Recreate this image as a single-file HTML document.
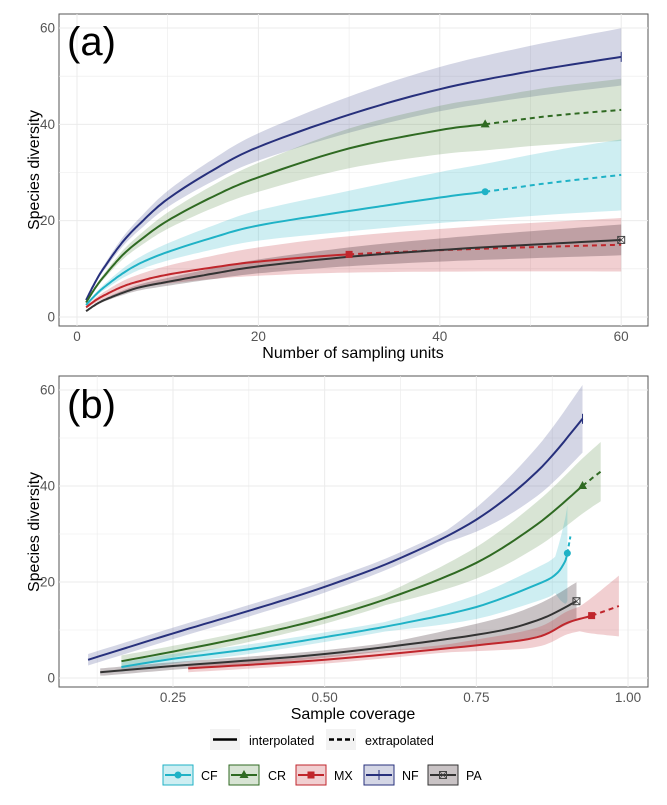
<!DOCTYPE html>
<html><head><meta charset="utf-8"><style>
body{margin:0;background:#fff;}
svg text{font-family:"Liberation Sans",sans-serif;}
</style></head><body>
<svg id="s" width="667" height="800" xmlns="http://www.w3.org/2000/svg">
<rect width="667" height="800" fill="#fff"/>
<g id="g"></g>
</svg>
<script>
var g=document.getElementById('g');var h='';
function cr(pts,n){
 var out=[];for(var i=0;i<pts.length-1;i++){var p0=pts[Math.max(0,i-1)],p1=pts[i],p2=pts[i+1],p3=pts[Math.min(pts.length-1,i+2)];
 for(var k=0;k<n;k++){var t=k/n,t2=t*t,t3=t2*t;
 var f=function(a,b,c,d){return 0.5*((2*b)+(-a+c)*t+(2*a-5*b+4*c-d)*t2+(-a+3*b-3*c+d)*t3)};
 out.push([f(p0[0],p1[0],p2[0],p3[0]),f(p0[1],p1[1],p2[1],p3[1])]);}}
 out.push(pts[pts.length-1]);return out;}
function P(a){return a.map(function(p,i){return (i?'L':'M')+p[0].toFixed(1)+','+p[1].toFixed(1)}).join('')}
function frame(top,bot,xt,yt){
 h+='<rect x="59" y="'+top+'" width="589" height="'+(bot-top)+'" fill="#fff" stroke="#555" stroke-width="1"/>';
 xt.forEach(function(t){h+='<line x1="'+t[0]+'" x2="'+t[0]+'" y1="'+top+'" y2="'+bot+'" stroke="#ebebeb" stroke-width="'+(t[2]?0.6:1)+'"/>';});
 yt.forEach(function(t){h+='<line x1="59" x2="648" y1="'+t[0]+'" y2="'+t[0]+'" stroke="#ebebeb" stroke-width="'+(t[2]?0.6:1)+'"/>';});
}
var ax=function(v){return 77+9.07*v}, ay=function(v){return 317-4.817*v};
var xtA=[],ytA=[];
for(var v=0;v<=60;v+=10){xtA.push([ax(v),v,v%20?1:0]);}
for(var v=0;v<=60;v+=10){ytA.push([ay(v),v,v%20?1:0]);}
frame(14,326,xtA,ytA);
var C={CF:['#1fb2c6','rgba(31,178,198,0.22)'],CR:['#2f6a22','rgba(60,120,40,0.2)'],MX:['#c0262c','rgba(192,38,44,0.22)'],NF:['#27307c','rgba(39,48,124,0.2)'],PA:['#333','rgba(60,40,45,0.28)']};
var A={
NF:{p:[[1,3.5],[2,7.2],[3,10.3],[5,15.5],[7,19.5],[10,24.5],[15,30.5],[20,35.3],[30,42],[40,47.3],[50,51],[60,54]],obs:60,a:.04,b:.07},
CR:{p:[[1,3],[2,6],[3,8.5],[5,12.8],[7,16],[10,20],[15,25],[20,29],[30,35],[40,38.8],[45,40],[52,41.7],[60,43]],obs:45,a:.04,b:.11},
CF:{p:[[1,2.5],[2,4.5],[3,6.2],[5,9],[7,11.2],[10,13.5],[15,16.5],[20,19],[30,22],[40,24.8],[45,26],[52,27.8],[60,29.5]],obs:45,a:.05,b:.2},
MX:{p:[[1,2],[2,3.4],[3,4.5],[5,6.3],[7,7.5],[10,8.8],[15,10.3],[20,11.5],[30,13],[45,14.2],[60,15]],obs:30,a:.1,b:.27},
PA:{p:[[1,1.2],[2,2.5],[3,3.5],[5,5],[7,6.2],[10,7.3],[15,9],[20,10.5],[30,12.5],[40,13.9],[50,15],[60,16]],obs:60,a:.05,b:.15}};
var ord=['NF','CR','CF','MX','PA'];
ord.forEach(function(k){var s=A[k],c=cr(s.p,10),u=[],l=[];
 c.forEach(function(q){var f=s.a+s.b*Math.sqrt(q[0]/60);u.push([ax(q[0]),ay(q[1]*(1+f))]);l.push([ax(q[0]),ay(q[1]*(1-f))]);});
 h+='<path d="'+P(u.concat(l.reverse()))+'Z" fill="'+C[k][1]+'"/>';});
ord.forEach(function(k){var s=A[k],c=cr(s.p,10),i1=[],e1=[];
 c.forEach(function(q){var pt=[ax(q[0]),ay(q[1])];if(q[0]<=s.obs+0.01)i1.push(pt);if(q[0]>=s.obs-0.01)e1.push(pt);});
 h+='<path d="'+P(i1)+'" fill="none" stroke="'+C[k][0]+'" stroke-width="2"/>';
 if(e1.length>1)h+='<path d="'+P(e1)+'" fill="none" stroke="'+C[k][0]+'" stroke-width="2" stroke-dasharray="5,4"/>';});
function mark(k,x,y){var c=C[k][0];
 if(k=='CF')h+='<circle cx="'+x+'" cy="'+y+'" r="3.5" fill="'+c+'"/>';
 if(k=='CR')h+='<polygon points="'+x+','+(y-5)+' '+(x-4.5)+','+(y+3)+' '+(x+4.5)+','+(y+3)+'" fill="'+c+'"/>';
 if(k=='MX')h+='<rect x="'+(x-3.5)+'" y="'+(y-3.5)+'" width="7" height="7" fill="'+c+'"/>';
 if(k=='NF')h+='<line x1="'+x+'" x2="'+x+'" y1="'+(y-5)+'" y2="'+(y+5)+'" stroke="'+c+'"/>';
 if(k=='PA')h+='<rect x="'+(x-3.5)+'" y="'+(y-3.5)+'" width="7" height="7" fill="none" stroke="#444"/><path d="M'+(x-3.5)+','+(y-3.5)+'L'+(x+3.5)+','+(y+3.5)+'M'+(x+3.5)+','+(y-3.5)+'L'+(x-3.5)+','+(y+3.5)+'" stroke="#444" stroke-width="0.7"/>';}
mark('NF',ax(60),ay(54));mark('CR',ax(45),ay(40));mark('CF',ax(45),ay(26));mark('MX',ax(30),ay(13));mark('PA',ax(60),ay(16));
xtA.forEach(function(t){if(t[1]%20==0)h+='<text x="'+t[0]+'" y="341" font-size="13.5" fill="#555" text-anchor="middle">'+t[1]+'</text>';});
ytA.forEach(function(t){if(t[1]%20==0)h+='<text x="55" y="'+(t[0]+4.5)+'" font-size="13.5" fill="#555" text-anchor="end">'+t[1]+'</text>';});
h+='<text x="353" y="358" font-size="16" text-anchor="middle" fill="#000">Number of sampling units</text>';
h+='<text transform="translate(39,170) rotate(-90)" font-size="16" text-anchor="middle" fill="#000">Species diversity</text>';
h+='<text x="67" y="55" font-size="40" fill="#000">(a)</text>';
var bx=function(c){return 173+(c-0.25)*606.7}, by=function(v){return 678-4.8*v};
var xtB=[],ytB=[];
for(var c=0.125;c<=1.01;c+=0.125){xtB.push([bx(c),c,Math.round(c*8)%2?1:0]);}
for(var v=0;v<=60;v+=10){ytB.push([by(v),v,v%20?1:0]);}
frame(376,687,xtB,ytB);
var B={
NF:{p:[[0.11,3.8],[0.25,9.3],[0.375,14],[0.5,19],[0.625,25],[0.75,33],[0.85,43],[0.925,54]],obs:0.925,w:function(x,y){return 1.2+ (x>0.7? (x-0.7)*26:0)}},
CR:{p:[[0.165,3.5],[0.25,5.5],[0.375,8.7],[0.5,12.5],[0.625,17.5],[0.75,24],[0.85,32],[0.925,40],[0.955,43]],obs:0.925,w:function(x,y){return 1.2+(x>0.6?(x-0.6)*14:0)}},
CF:{p:[[0.165,2.3],[0.25,4],[0.375,6],[0.5,8.5],[0.625,11.3],[0.75,14.8],[0.85,19.5],[0.88,21.5],[0.895,24],[0.9,26]],obs:0.9,w:function(x,y){return 1+(x>0.6?(x-0.6)*10:0)+(x>0.88?(x-0.88)*300:0)}},
PA:{p:[[0.13,1.2],[0.25,2.5],[0.5,5],[0.75,9],[0.85,12],[0.915,16]],obs:0.915,w:function(x,y){return 0.8+(x>0.6?(x-0.6)*10:0)}},
MX:{p:[[0.275,2],[0.5,3.8],[0.75,6.8],[0.85,8.5],[0.9,11.5],[0.94,13],[0.985,15]],obs:0.94,w:function(x,y){return 0.8+(x>0.7?(x-0.7)*8:0)+(x>0.92?(x-0.92)*50:0)}}};
var ordB=['NF','CR','CF','PA','MX'];
ordB.forEach(function(k){var s=B[k],c=cr(s.p,10),u=[],l=[];
 c.forEach(function(q){var w=s.w(q[0],q[1]);u.push([bx(q[0]),by(q[1]+w)]);l.push([bx(q[0]),by(Math.max(q[1]-w,0.5))]);});
 h+='<path d="'+P(u.concat(l.reverse()))+'Z" fill="'+C[k][1]+'"/>';});
ordB.forEach(function(k){var s=B[k],c=cr(s.p,10),i1=[],e1=[];
 c.forEach(function(q){var pt=[bx(q[0]),by(q[1])];if(q[0]<=s.obs+0.0001)i1.push(pt);if(q[0]>=s.obs-0.0001)e1.push(pt);});
 h+='<path d="'+P(i1)+'" fill="none" stroke="'+C[k][0]+'" stroke-width="2"/>';
 if(e1.length>1)h+='<path d="'+P(e1)+'" fill="none" stroke="'+C[k][0]+'" stroke-width="2" stroke-dasharray="5,4"/>';});
h+='<path d="M'+bx(0.9)+','+by(26)+'L'+bx(0.905)+','+by(29.5)+'" stroke="'+C.CF[0]+'" stroke-width="2" stroke-dasharray="4,3"/>';
mark('NF',bx(0.925),by(54));mark('CR',bx(0.925),by(40));mark('CF',bx(0.9),by(26));mark('MX',bx(0.94),by(13));mark('PA',bx(0.915),by(16));
[[0.25,'0.25'],[0.5,'0.50'],[0.75,'0.75'],[1,'1.00']].forEach(function(t){h+='<text x="'+bx(t[0])+'" y="702" font-size="13.5" fill="#555" text-anchor="middle">'+t[1]+'</text>';});
ytB.forEach(function(t){if(t[1]%20==0)h+='<text x="55" y="'+(t[0]+4.5)+'" font-size="13.5" fill="#555" text-anchor="end">'+t[1]+'</text>';});
h+='<text x="353" y="719" font-size="16" text-anchor="middle" fill="#000">Sample coverage</text>';
h+='<text transform="translate(39,532) rotate(-90)" font-size="16" text-anchor="middle" fill="#000">Species diversity</text>';
h+='<text x="67" y="418" font-size="40" fill="#000">(b)</text>';
h+='<rect x="210" y="729" width="30" height="21" fill="#f2f2f2"/><line x1="213" x2="237" y1="739.5" y2="739.5" stroke="#000" stroke-width="2.5"/>';
h+='<text x="249" y="745" font-size="12.5" fill="#000">interpolated</text>';
h+='<rect x="326" y="729" width="30" height="21" fill="#f2f2f2"/><line x1="329" x2="354" y1="739.5" y2="739.5" stroke="#000" stroke-width="2.5" stroke-dasharray="5,3"/>';
h+='<text x="365" y="745" font-size="12.5" fill="#000">extrapolated</text>';
var L=[['CF',163,201],['CR',229,268],['MX',296,334],['NF',364,402],['PA',428,466]];
L.forEach(function(e){var k=e[0],x=e[1];
 h+='<rect x="'+x+'" y="765" width="30" height="20" fill="'+C[k][1]+'" stroke="'+C[k][0]+'" stroke-width="1"/>';
 h+='<line x1="'+(x+2)+'" x2="'+(x+28)+'" y1="775" y2="775" stroke="'+C[k][0]+'" stroke-width="2"/>';
 mark(k,x+15,775);
 h+='<text x="'+e[2]+'" y="780" font-size="12.5" fill="#000">'+k+'</text>';});
g.innerHTML=h;
</script>
</body></html>
